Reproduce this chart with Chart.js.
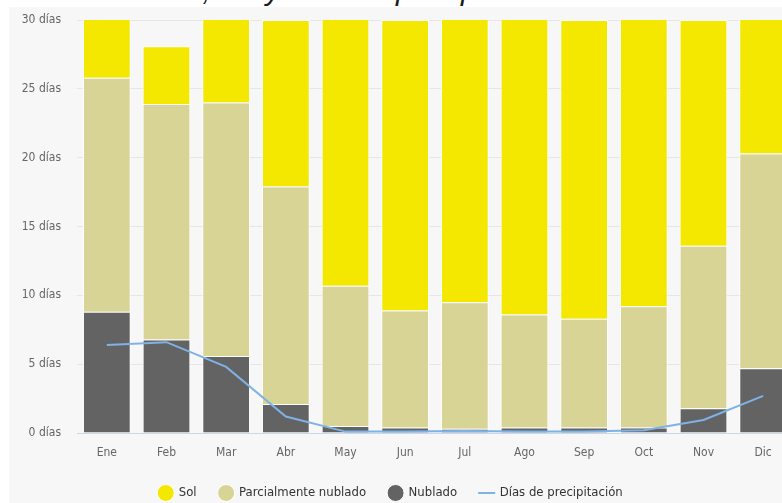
<!DOCTYPE html>
<html>
<head>
<meta charset="utf-8">
<script src="https://cdn.jsdelivr.net/npm/chart.js@4/dist/chart.umd.min.js"></script>
<style>
  html, body { margin: 0; padding: 0; background: #ffffff; overflow: hidden; width: 782px; height: 503px; }
  #title { position: absolute; left: 19px; top: -25px; font: italic 30px "Liberation Sans", Arial, sans-serif; line-height: 30px; color: #1a1a1a; white-space: nowrap; }
  #wrap { position: absolute; left: 9px; top: 7px; width: 800px; height: 504px; background: #f7f7f7; }
  #wrap canvas { display: block; }
</style>
</head>
<body>
<div id="title">Cielo nublado, sol y días de precipitación</div>
<div id="wrap"><canvas id="c" width="800" height="504"></canvas></div>
<script>
const months = ["Ene","Feb","Mar","Abr","May","Jun","Jul","Ago","Sep","Oct","Nov","Dic"];
const nublado = [8.8, 6.8, 5.6, 2.1, 0.5, 0.4, 0.3, 0.4, 0.4, 0.4, 1.8, 4.7];
const parcial = [17.0, 17.1, 18.4, 15.8, 10.2, 8.5, 9.2, 8.2, 7.9, 8.8, 11.8, 15.6];
const sol = [5.2, 4.2, 7.0, 12.1, 20.3, 21.1, 21.5, 22.4, 21.7, 21.8, 16.4, 10.7];
const precipitacion = [6.4, 6.6, 4.8, 1.2, 0.1, 0.1, 0.15, 0.1, 0.1, 0.2, 0.95, 2.7];
const yTicks = [0, 5, 10, 15, 20, 25, 30];

const legendOrder = { "Sol": 0, "Parcialmente nublado": 1, "Nublado": 2, "Días de precipitación": 3 };
const tickFont = { family: "'DejaVu Sans Condensed', 'Liberation Sans', sans-serif", size: 12 };

const legendBox = {
  id: 'legendBox',
  beforeLayout(chart) {
    const lg = chart.legend;
    if (lg && !lg._fixedH) {
      const orig = lg.fit.bind(lg);
      lg.fit = function () { orig(); this.height = 47.5; };
      lg._fixedH = true;
    }
  },
  afterLayout(chart) {
    const lg = chart.legend;
    if (lg) { lg.left -= 10; lg.right -= 10; }
  }
};

new Chart(document.getElementById('c'), {
  type: 'bar',
  data: {
    labels: months,
    datasets: [
      { label: 'Nublado', data: nublado, backgroundColor: '#636363', borderColor: '#ffffff', borderWidth: 1, stack: 'a', order: 1, pointStyle: 'circle' },
      { label: 'Parcialmente nublado', data: parcial, backgroundColor: '#d7d495', borderColor: '#ffffff', borderWidth: 1, stack: 'a', order: 1, pointStyle: 'circle' },
      { label: 'Sol', data: sol, backgroundColor: '#f4e800', borderColor: '#ffffff', borderWidth: 1, stack: 'a', order: 1, pointStyle: 'circle' },
      { type: 'line', label: 'Días de precipitación', data: precipitacion, borderColor: '#7fb2e5', backgroundColor: '#7fb2e5', borderWidth: 2, pointRadius: 0, pointStyle: 'line', tension: 0, stack: 'p', order: 0, fill: false }
    ]
  },
  plugins: [legendBox],
  options: {
    responsive: false,
    animation: false,
    layout: { padding: { top: 13, right: 16, left: 0, bottom: 0 } },
    datasets: { bar: { categoryPercentage: 0.8, barPercentage: 1.0 } },
    plugins: {
      tooltip: { enabled: false },
      legend: {
        position: 'bottom',
        labels: {
          usePointStyle: true,
          boxHeight: 12,
          padding: 23,
          color: '#333333',
          font: { family: "'DejaVu Sans Condensed', 'Liberation Sans', sans-serif", size: 13 },
          sort: (a, b) => legendOrder[a.text] - legendOrder[b.text]
        }
      }
    },
    scales: {
      x: {
        stacked: true,
        afterFit: s => { s.height = 30.5; },
        grid: { display: false, drawTicks: false },
        border: { color: '#ccd6eb', width: 1 },
        ticks: { color: '#666666', font: tickFont, padding: 13 }
      },
      y: {
        stacked: true,
        min: 0, max: 30,
        afterFit: s => { s.width = 68; s.paddingTop = 0; s.paddingBottom = 0; },
        afterBuildTicks: s => { s.ticks = yTicks.map(v => ({ value: v })); },
        grid: { color: '#e6e6e6', drawTicks: false },
        border: { display: false },
        ticks: { color: '#666666', font: tickFont, padding: 16, callback: v => v + ' días' }
      }
    }
  }
});
</script>
</body>
</html>
